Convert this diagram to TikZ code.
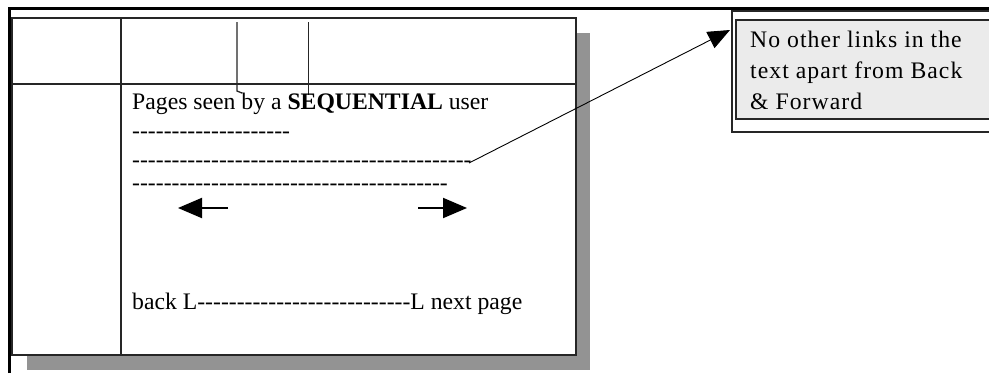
\documentclass[tikz,border=0pt]{standalone}
\usepackage{fontspec}
\setmainfont{Liberation Serif}[Ligatures=TeXOff]
\newfontfamily\boxfont{Liberation Serif}[Ligatures=TeXOff,LetterSpace=4.4]
\usetikzlibrary{arrows.meta}
\definecolor{shadowgray}{HTML}{939393}
\definecolor{notefill}{HTML}{EBEBEB}
\newcommand\hyph[1]{\foreach\i in {1,...,#1}{-}}
\begin{document}
\begin{tikzpicture}[x=1pt,y=-1pt,
  txt/.style={inner sep=0pt, anchor=base west, font=\fontsize{23.7}{28}\selectfont},
  notetxt/.style={inner sep=0pt, anchor=base west, font=\boxfont\fontsize{23.7}{28}\selectfont},
  rule/.style={draw=black!85, line width=1.5pt},
  fwd/.style={line width=2pt, -{Triangle[length=24pt,width=20pt]}}]
\useasboundingbox (0,0) rectangle (989,373);
\fill[white] (0,0) rectangle (989,373);
% outer frame
\draw[line width=3pt] (9.5,373) -- (9.5,8.5) -- (989,8.5);
% page with shadow
\fill[shadowgray] (27,33) rectangle (590,370);
\filldraw[fill=white, draw=black!85, line width=2pt] (12,18) rectangle (576,355);
\coordinate (vtop) at (121,18); \coordinate (vbot) at (121,355);
\coordinate (hl) at (12,84); \coordinate (hr) at (576,84);
\draw[rule] (vtop) -- (vbot);
\draw[rule] (hl) -- (hr);
\coordinate (s1t) at (237,22); \coordinate (s1b) at (237,91); \coordinate (s1h) at (242,93);
\coordinate (s2t) at (308.5,22); \coordinate (s2b) at (308.5,95);
\draw[rule, line width=1.3pt] (s1t) -- (s1b) -- (s1h);
\draw[rule, line width=1.3pt] (s2t) -- (s2b);
% texts
\node[txt] (title) at (132,109) {Pages seen by a \textbf{SEQUENTIAL} user};
\node[txt] (row1) at (132,138) {\hyph{20}};
\node[txt] (row2) at (132,167) {\hyph{43}};
\node[txt] (row3) at (132,190) {\hyph{40}};
\node[txt] (bottom) at (132,309) {back L\hyph{27}L next page};
% back / forward arrows
\coordinate (la) at (228,208); \coordinate (lb) at (178,208);
\coordinate (ra) at (418,208); \coordinate (rb) at (467,208);
\draw[fwd] (la) -- (lb);
\draw[fwd] (ra) -- (rb);
% note box
\node[draw=black!85, line width=1.5pt, fill=white, inner sep=0pt, anchor=north west,
  minimum width=300pt, minimum height=121pt] (noteout) at (731,10) {};
\node[draw=black!85, line width=2pt, fill=notefill, inner sep=0pt, anchor=north west,
  minimum width=300pt, minimum height=99pt] (notein) at (735,19) {};
\node[notetxt] (n1) at (750,47.5) {No other links in the};
\node[notetxt] (n2) at (750,78.3) {text apart from Back};
\node[notetxt] (n3) at (750,109.3) {\& Forward};
% connector
\coordinate (cstart) at (469,163);
\coordinate (ctip) at (730,30);
\draw[line width=0.9pt, -{Triangle[length=22pt,width=18pt]}] (cstart) -- (ctip);
\end{tikzpicture}
\end{document}
